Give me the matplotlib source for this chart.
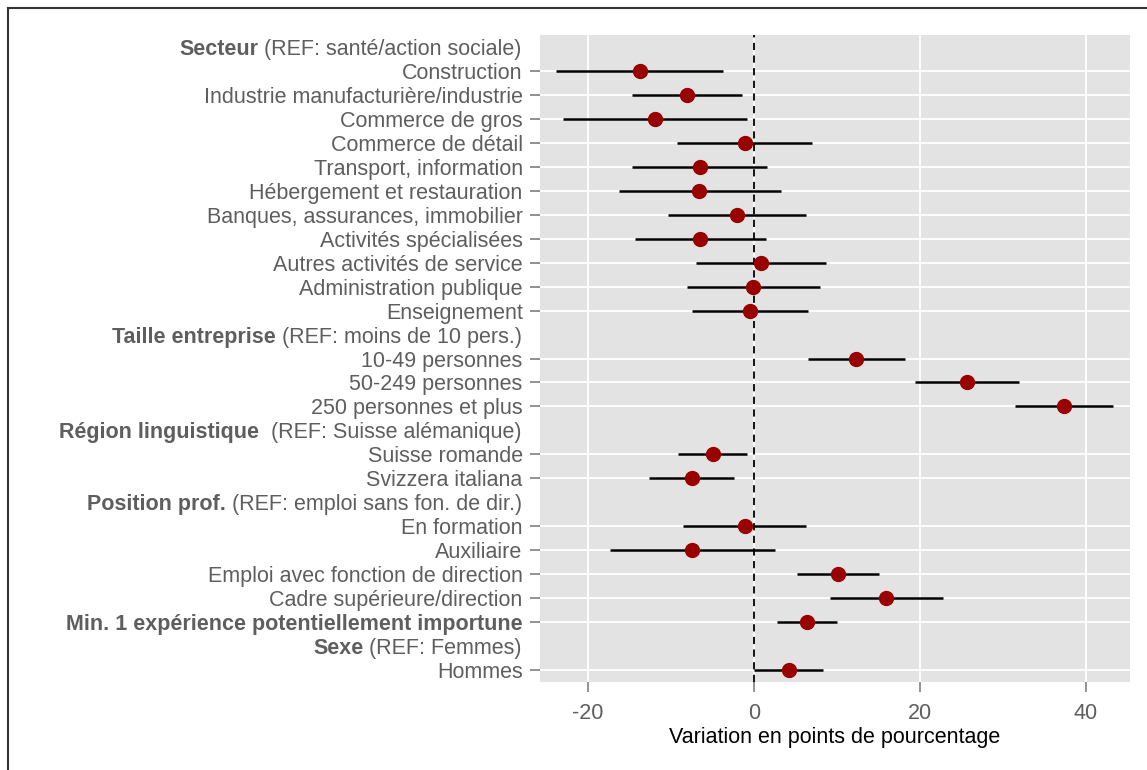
import matplotlib
matplotlib.use('Agg')
import matplotlib.pyplot as plt
from matplotlib.lines import Line2D
import matplotlib.transforms as mtransforms

plt.rcParams['font.family'] = ['Liberation Sans', 'DejaVu Sans']

# data rows, top to bottom
labels = ["Construction", "Industrie manufacturière/industrie", "Commerce de gros",
          "Commerce de détail", "Transport, information", "Hébergement et restauration",
          "Banques, assurances, immobilier", "Activités spécialisées",
          "Autres activités de service", "Administration publique", "Enseignement",
          "10-49 personnes", "50-249 personnes", "250 personnes et plus",
          "Suisse romande", "Svizzera italiana",
          "En formation", "Auxiliaire", "Emploi avec fonction de direction",
          "Cadre supérieure/direction",
          "Min. 1 expérience potentiellement importune",
          "Hommes"]
estimate = [-13.8, -8.1, -11.9, -1.1, -6.5, -6.6, -2.0, -6.5, 0.8, -0.1, -0.5,
            12.3, 25.6, 37.3, -5.0, -7.5, -1.1, -7.5, 10.1, 15.9, 6.4, 4.2]
ci_low = [-23.9, -14.7, -23.0, -9.3, -14.7, -16.3, -10.4, -14.3, -7.0, -8.1, -7.5,
          6.5, 19.4, 31.4, -9.2, -12.7, -8.6, -17.4, 5.2, 9.1, 2.8, 0.0]
ci_high = [-3.7, -1.5, -0.9, 7.0, 1.6, 3.2, 6.3, 1.4, 8.7, 7.9, 6.5,
           18.2, 31.9, 43.2, -0.9, -2.4, 6.3, 2.5, 15.1, 22.8, 10.0, 8.3]

# group headers (bold part + reference part), inserted before label index
header_bold = ["Secteur", "Taille entreprise", "Région linguistique", "Position prof.", "Sexe"]
header_ref = [" (REF: santé/action sociale)", " (REF: moins de 10 pers.)",
              "  (REF: Suisse alémanique)", " (REF: emploi sans fon. de dir.)",
              " (REF: Femmes)"]
header_before = [0, 11, 14, 16, 21]
bold_labels = ["Min. 1 expérience potentiellement importune"]

xticks = [-20, 0, 20, 40]
xlabel = "Variation en points de pourcentage"

# row positions
pos = []
header_pos = []
r = 0
for i in range(len(labels)):
    if i in header_before:
        header_pos.append(r)
        r += 1
    pos.append(r)
    r += 1
nrows = r

fig = plt.figure(figsize=(11.47, 7.70), dpi=100)
ax = fig.add_axes([540/1147, 88/770, 590/1147, 647/770])
ax.set_facecolor('#E3E3E3')
for s in ax.spines.values():
    s.set_visible(False)

grey = '#5E5E5E'
fs = 15.5

ax.set_xlim(-25.8, 45.3)
ax.set_ylim(nrows - 0.5, -0.5)
ax.set_xticks(xticks)
ax.set_xticklabels([str(t) for t in xticks])
ax.set_yticks(pos)
ax.set_yticklabels(labels)
for t in ax.get_yticklabels():
    if t.get_text() in bold_labels:
        t.set_fontweight('bold')
ax.tick_params(axis='both', colors='#7F7F7F', labelcolor=grey, labelsize=fs, length=7, width=1.2)
ax.tick_params(axis='y', pad=5.5)
ax.tick_params(axis='x', pad=8)

ax.grid(True, color='white', lw=1.3)
ax.set_axisbelow(True)

ax.axvline(0, color='black', lw=1.3, ls=(0, (4, 3)), zorder=2)
ax.hlines(pos, ci_low, ci_high, color='black', lw=1.8, zorder=3)
ax.plot(estimate, pos, 'o', color='#990000', ms=10, zorder=4)

ax.set_xlabel(xlabel, fontsize=fs, color='black', labelpad=2)

# group headers
trans = mtransforms.blended_transform_factory(ax.transAxes, ax.transData)
for b, ref, y in zip(header_bold, header_ref, header_pos):
    t = ax.text(-0.031, y, ref, ha='right', va='center_baseline', transform=trans,
                fontsize=fs, color=grey)
    ax.annotate(b, xy=(0, y), xycoords=(t, 'data'), ha='right', va='center_baseline',
                fontsize=fs, color=grey, fontweight='bold', annotation_clip=False)

# frame of the original figure (top and left edges)
fig.add_artist(Line2D([8/1147, 1], [1 - 8/770, 1 - 8/770], transform=fig.transFigure,
                      color='#333333', lw=1.5))
fig.add_artist(Line2D([8/1147, 8/1147], [0, 1 - 8/770], transform=fig.transFigure,
                      color='#333333', lw=1.5))

fig.savefig('out.png', dpi=100)
